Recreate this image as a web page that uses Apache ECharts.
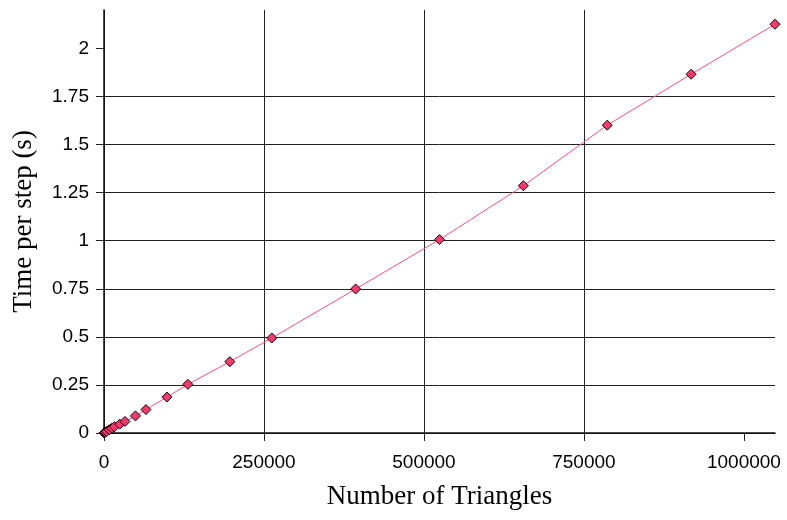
<!DOCTYPE html>
<html>
<head>
<meta charset="utf-8">
<script src="https://cdn.jsdelivr.net/npm/echarts@6/dist/echarts.min.js"></script>
<style>html,body{margin:0;padding:0;background:#fff}#c{width:787px;height:520px}</style>
</head>
<body>
<div id="c"></div>
<script>
var triangles = [256, 512, 1024, 2048, 4096, 8192, 12288, 16384, 24576, 32768, 49152, 65536, 98304, 131072, 196608, 262144, 393216, 524288, 655360, 786432, 917504, 1048576];
var timePerStep = [0.0006, 0.0012, 0.0022, 0.0043, 0.0085, 0.017, 0.025, 0.033, 0.046, 0.06, 0.089, 0.122, 0.187, 0.253, 0.371, 0.494, 0.749, 1.006, 1.286, 1.601, 1.866, 2.126];
var xTicks = [0, 250000, 500000, 750000, 1000000];
var yTicks = [0, 0.25, 0.5, 0.75, 1, 1.25, 1.5, 1.75, 2];
var xTitle = 'Number of Triangles';
var yTitle = 'Time per step (s)';

var pts = triangles.map(function (t, i) { return [t, timePerStep[i]]; });
var chart = echarts.init(document.getElementById('c'), null, {renderer: 'canvas'});
var lineCol = '#222';
chart.setOption({
  animation: false,
  grid: {left: 104, right: 12, top: 10, bottom: 87, containLabel: false},
  xAxis: {
    type: 'value', min: 0, max: 1048576, interval: 250000,
    name: xTitle, nameLocation: 'middle', nameGap: 50,
    nameTextStyle: {fontFamily: 'Liberation Serif', fontSize: 27, color: '#000'},
    axisLine: {show: true, lineStyle: {color: '#111', width: 1.5}},
    axisTick: {show: true, inside: false, length: 8, customValues: xTicks, lineStyle: {color: lineCol}},
    splitLine: {show: true, showMaxLine: false, lineStyle: {color: lineCol, width: 1}},
    axisLabel: {fontFamily: 'Liberation Sans', fontSize: 19, color: '#000', margin: 20,
      customValues: xTicks, formatter: function (v) { return String(v); }}
  },
  yAxis: {
    type: 'value', min: 0, max: 2.2, interval: 0.25,
    name: yTitle, nameLocation: 'middle', nameGap: 67, nameRotate: 90,
    nameTextStyle: {fontFamily: 'Liberation Serif', fontSize: 27, color: '#000'},
    axisLine: {show: true, lineStyle: {color: '#111', width: 1.5}},
    axisTick: {show: true, inside: false, length: 8, customValues: yTicks, lineStyle: {color: lineCol}},
    splitLine: {show: true, showMaxLine: false, lineStyle: {color: lineCol, width: 1}},
    axisLabel: {fontFamily: 'Liberation Sans', fontSize: 19, color: '#000', margin: 15,
      customValues: yTicks, formatter: function (v) { return String(v); }}
  },
  series: [{
    type: 'line', data: pts, symbol: 'diamond', symbolSize: 10, showSymbol: true,
    lineStyle: {color: '#ff4f7e', width: 1},
    itemStyle: {color: '#f03c6c', borderColor: '#1a0008', borderWidth: 1}
  }]
});
</script>
</body>
</html>
